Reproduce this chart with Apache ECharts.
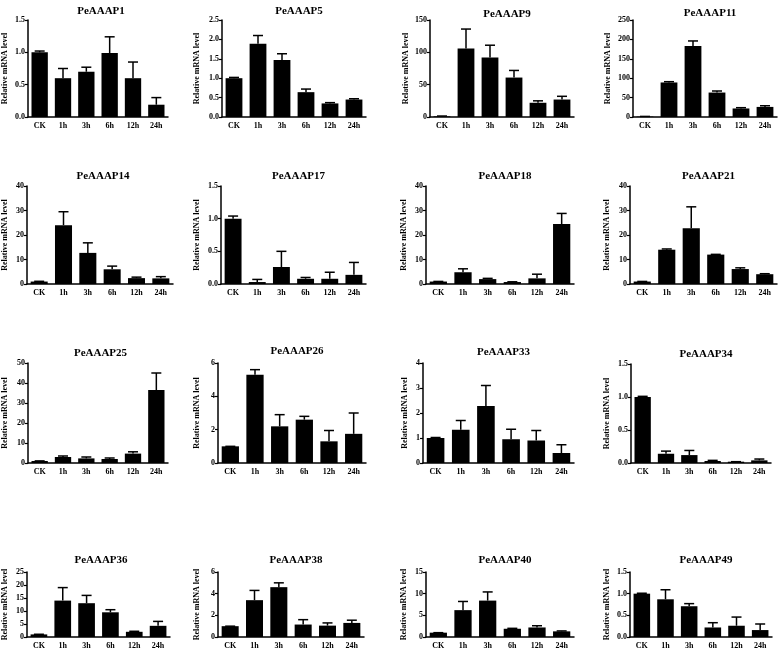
<!DOCTYPE html>
<html>
<head>
<meta charset="utf-8">
<script src="https://cdn.jsdelivr.net/npm/echarts@6/dist/echarts.min.js"></script>
<style>html,body{margin:0;padding:0;background:#fff}#c{width:778px;height:652px}</style>
</head>
<body>
<div id="c"></div>
<script>
var categories = ['CK','1h','3h','6h','12h','24h'];
var titles = ['PeAAAP1','PeAAAP5','PeAAAP9','PeAAAP11','PeAAAP14','PeAAAP17','PeAAAP18','PeAAAP21','PeAAAP25','PeAAAP26','PeAAAP33','PeAAAP34','PeAAAP36','PeAAAP38','PeAAAP40','PeAAAP49'];
var means = [
  [1.0,0.6,0.7,0.99,0.6,0.19],
  [1.0,1.89,1.47,0.64,0.35,0.45],
  [1,106,92,61,22,27],
  [1,89,183,63,22,26],
  [1,24,12.7,6,2.4,2.3],
  [1.0,0.03,0.26,0.08,0.08,0.14],
  [1,4.8,2,0.8,2.3,24.5],
  [1,14,22.8,12,6.1,4],
  [1,3,2.3,2,4.7,36.5],
  [1,5.3,2.2,2.6,1.3,1.75],
  [1,1.33,2.28,0.95,0.9,0.4],
  [1,0.14,0.12,0.03,0.02,0.04],
  [1,14,13,9.5,2,4.3],
  [1,3.4,4.6,1.15,1.05,1.3],
  [1,6.2,8.4,1.9,2.2,1.3],
  [1.0,0.87,0.71,0.22,0.26,0.16]
];
var errors = [
  [0.02,0.15,0.07,0.25,0.25,0.11],
  [0.02,0.21,0.16,0.08,0.02,0.02],
  [0.5,30,19,11,3,5],
  [0.5,2,13,4,2,3],
  [0.1,5.5,4.1,1.3,0.4,0.7],
  [0.04,0.04,0.24,0.02,0.1,0.19],
  [0.05,1.4,0.3,0.1,1.7,4.3],
  [0.05,0.3,8.7,0.1,0.5,0.2],
  [0.05,0.5,0.7,0.5,0.9,8.5],
  [0,0.3,0.7,0.2,0.65,1.25],
  [0.02,0.37,0.82,0.4,0.4,0.33],
  [0.01,0.04,0.07,0.01,0,0.02],
  [0.05,5,3,1,0.2,1.7],
  [0,0.9,0.4,0.45,0.25,0.25],
  [0,2,2,0.1,0.4,0.1],
  [0.01,0.22,0.06,0.11,0.2,0.14]
];
var yMax = [1.5,2.5,150,250,40,1.5,40,40,50,6,4,1.5,25,6,15,1.5];
var yStep = [0.5,0.5,50,50,10,0.5,10,10,10,2,1,0.5,5,2,5,0.5];
var yDecimals = [1,1,0,0,0,1,0,0,0,0,0,1,0,0,0,1];

// layout
var grids = [
  [24,20,144,97],[222,20,144,97],[430,20,144,97],[633,20,144,97],
  [23,186,150,98],[221,186,145,98],[426,186,148,98],[630,186,147,98],
  [23,363,145,100],[218,363,148,100],[423,363,151,100],[631,364,140,99],
  [22,572,148,65],[218,572,146,65],[426,572,148,65],[630,572,142,65]
];
var titleTop = [1,1,4,3, 166,166,166,166, 343,341,342,344, 550,550,550,550];
var nameGaps = [15,17,16.5,17.5, 14,16,14.5,15.5, 15,13,10,16, 14,13,14,15];

var font = 'Liberation Serif';
var option = {animation:false, title:[], grid:[], xAxis:[], yAxis:[], series:[]};
titles.forEach(function(t,i){
  var g = grids[i];
  option.title.push({text:t, left:g[0]+g[2]/2, top:titleTop[i], textAlign:'center',
    textStyle:{fontFamily:font, fontWeight:'bold', fontSize:11, color:'#000'}});
  option.grid.push({left:g[0], top:g[1], width:g[2], height:g[3], containLabel:false});
  option.xAxis.push({gridIndex:i, type:'category', data:categories,
    axisLine:{lineStyle:{color:'#000', width:1.5}}, axisTick:{show:false},
    axisLabel:{color:'#000', fontFamily:font, fontWeight:'bold', fontSize:8, margin:5, interval:0}});
  var dec = yDecimals[i];
  option.yAxis.push({gridIndex:i, type:'value', min:0, max:yMax[i], interval:yStep[i],
    name:'Relative mRNA level', nameLocation:'middle', nameGap:nameGaps[i]+4, nameRotate:90,
    nameTextStyle:{color:'#000', fontFamily:font, fontWeight:'bold', fontSize:8},
    axisLine:{show:true, lineStyle:{color:'#000', width:1.5}},
    axisTick:{show:true, length:3, lineStyle:{color:'#000', width:1.2}},
    splitLine:{show:false},
    axisLabel:{color:'#000', fontFamily:font, fontWeight:'bold', fontSize:8, margin:3,
      formatter:function(v){return v.toFixed(dec);}}});
  option.series.push({type:'bar', xAxisIndex:i, yAxisIndex:i, data:means[i], barWidth:'70%',
    itemStyle:{color:'#000'}, z:2});
  var ed = means[i].map(function(m,k){return [k, m, m+errors[i][k]];});
  option.series.push({type:'custom', xAxisIndex:i, yAxisIndex:i, data:ed, z:3,
    renderItem:function(params, api){
      var x = api.value(0);
      var p0 = api.coord([x, api.value(1)]);
      var p1 = api.coord([x, api.value(2)]);
      var hw = 5;
      var st = {stroke:'#000', lineWidth:1.5};
      return {type:'group', children:[
        {type:'line', shape:{x1:p0[0], y1:p0[1], x2:p1[0], y2:p1[1]}, style:st},
        {type:'line', shape:{x1:p0[0]-hw, y1:p1[1], x2:p0[0]+hw, y2:p1[1]}, style:st}
      ]};
    }});
});
var chart = echarts.init(document.getElementById('c'));
chart.setOption(option);
</script>
</body>
</html>
